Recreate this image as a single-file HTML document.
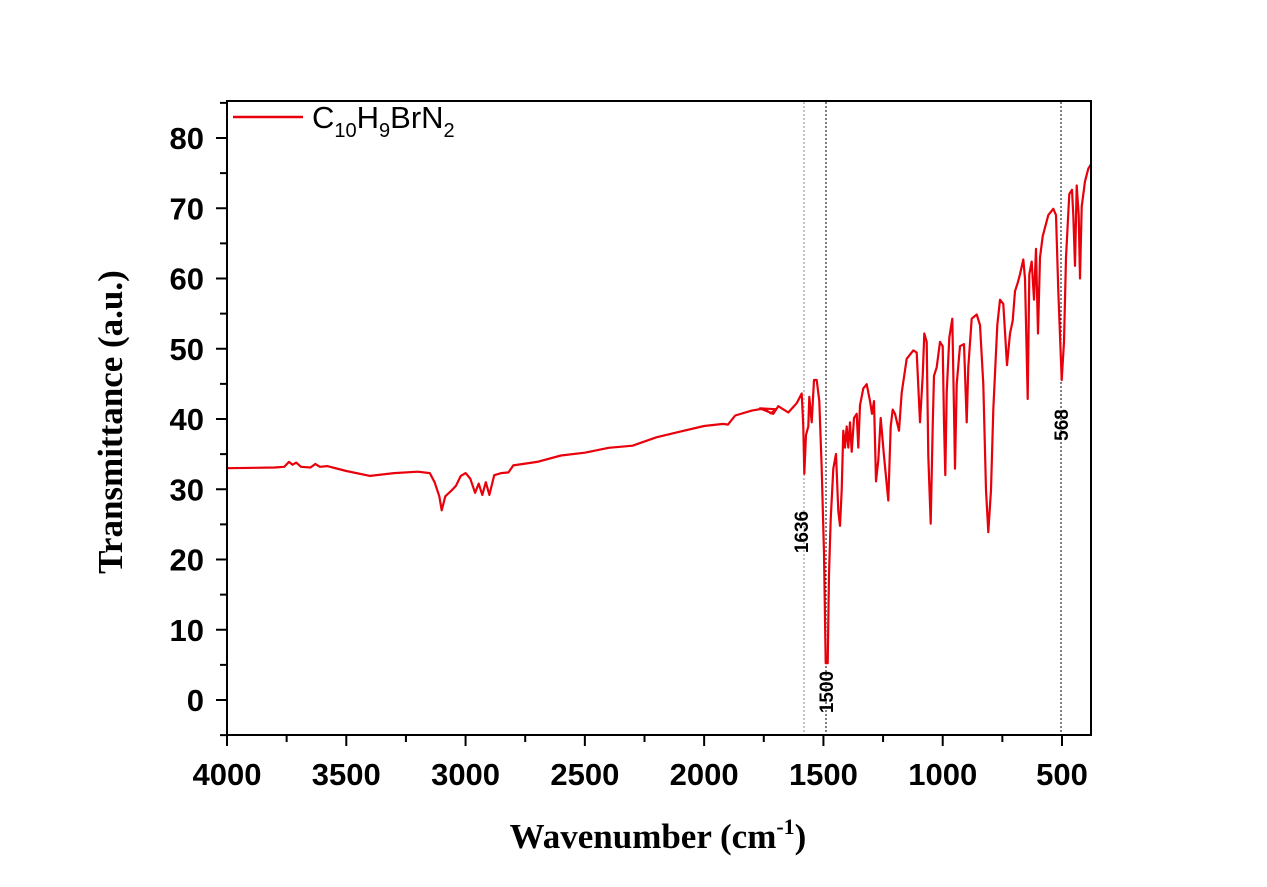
<!DOCTYPE html><html><head><style>body{margin:0;background:#fff}</style></head><body>
<svg id="s" width="1267" height="882" xmlns="http://www.w3.org/2000/svg" font-family="Liberation Sans, sans-serif">
<rect width="1267" height="882" fill="#fff"/>
<g stroke="#000" stroke-width="1" stroke-dasharray="2,2">
<line x1="804" y1="102" x2="804" y2="734" stroke="#888"/>
<line x1="826" y1="102" x2="826" y2="734"/>
<line x1="1061" y1="102" x2="1061" y2="734"/>
</g>
<polyline id="p" fill="none" stroke="#e8000b" stroke-width="2.2" stroke-linejoin="round"/>
<rect x="227" y="101" width="864" height="634" fill="none" stroke="#000" stroke-width="2"/>
<g id="t" stroke="#000" stroke-width="2"></g>
<g font-size="31" font-weight="bold" text-anchor="end" id="yl"></g>
<g font-size="31" font-weight="bold" text-anchor="middle" id="xl"></g>
<line x1="233" y1="117" x2="303" y2="117" stroke="#e8000b" stroke-width="2.5"/>
<text x="312" y="128" font-size="31">C<tspan font-size="20" dy="9">10</tspan><tspan dy="-9">H</tspan><tspan font-size="20" dy="9">9</tspan><tspan dy="-9">BrN</tspan><tspan font-size="20" dy="9">2</tspan></text>
<g font-size="19" font-weight="bold">
<text transform="translate(808,532) rotate(-90)" text-anchor="middle">1636</text>
<text transform="translate(833,692) rotate(-90)" text-anchor="middle">1500</text>
<text transform="translate(1068,425) rotate(-90)" text-anchor="middle">568</text>
</g>
<text transform="translate(122,422) rotate(-90)" text-anchor="middle" font-family="Liberation Serif, serif" font-weight="bold" font-size="35">Transmittance (a.u.)</text>
<text x="658" y="848" text-anchor="middle" font-family="Liberation Serif, serif" font-weight="bold" font-size="35">Wavenumber (cm<tspan font-size="22" dy="-14">-1</tspan><tspan dy="14">)</tspan></text>
</svg>
<script>
var X=w=>227+(4000-w)*0.23857,Y=v=>700-v*7.025;
var t=document.getElementById('t'),yl=document.getElementById('yl'),xl=document.getElementById('xl'),h='',a='',b='';
for(var v=-5;v<=85;v+=5){var y=Y(v);h+='<line x1="'+(v%10?220:216)+'" y1="'+y+'" x2="227" y2="'+y+'"/>';if(v%10==0&&v>=0)a+='<text x="204" y="'+(y+11)+'">'+v+'</text>';}
for(var w=4000;w>=400;w-=250){var x=X(w);h+='<line x1="'+x+'" y1="735" x2="'+x+'" y2="'+(w%500?742:746)+'"/>';if(w%500==0)b+='<text x="'+x+'" y="785">'+w+'</text>';}
t.innerHTML=h;yl.innerHTML=a;xl.innerHTML=b;
var L=[[4000,33],[3800,33.1],[3760,33.2],[3740,33.9],[3725,33.5],[3710,33.8],[3690,33.2],[3650,33.1],[3630,33.6],[3610,33.2],[3580,33.3],[3500,32.6],[3400,31.9],[3300,32.3],[3200,32.5],[3150,32.3],[3130,31],[3110,29],[3100,27],[3085,29],[3060,29.8],[3040,30.5],[3020,31.9],[3000,32.3],[2980,31.5],[2960,29.5],[2945,30.8],[2930,29.2],[2915,31],[2900,29.2],[2880,32],[2850,32.3],[2820,32.4],[2800,33.4],[2700,33.9],[2600,34.8],[2500,35.2],[2400,35.9],[2300,36.2],[2200,37.4],[2100,38.2],[2000,39],[1920,39.3],[1900,39.2],[1870,40.5],[1800,41.2],[1750,41.5],[1720,40.8],[1700,41.4]];
var pts=L.map(p=>[X(p[0]),Y(p[1])]);
var R=[[0,757],[40,770],[55,752],[85,767],[110,745],[125,722],[130,800],[133,912],[138,820],[145,800],[148,730],[155,790],[162,690],[170,690],[178,740],[185,900],[192,1100],[197,1360],[203,1360],[207,1150],[212,1020],[220,900],[228,865],[235,1000],[240,1035],[245,950],[250,810],[255,850],[260,800],[265,850],[270,790],[275,860],[282,780],[290,770],[295,850],[300,750],[310,710],[320,700],[330,740],[336,770],[342,740],[348,930],[355,880],[362,780],[372,870],[385,975],[392,800],[398,760],[405,770],[417,810],[425,720],[440,640],[460,620],[470,625],[480,790],[488,680],[493,580],[500,600],[505,870],[512,1030],[518,800],[522,680],[530,660],[540,600],[548,610],[552,790],[556,915],[560,720],[568,590],[577,545],[583,800],[585,900],[590,700],[600,610],[612,605],[620,790],[625,660],[635,545],[650,535],[660,560],[670,700],[678,950],[685,1050],[693,950],[700,760],[712,560],[720,500],[730,510],[741,655],[750,580],[758,550],[765,480],[773,460],[780,440],[790,405],[795,450],[803,735],[808,440],[815,410],[822,500],[828,380],[834,580],[840,400],[848,350],[865,300],[880,285],[888,300],[895,480],[905,690],[912,600],[918,400],[928,250],[936,240],[940,300],[945,420],[950,230],[956,300],[960,450],[965,280],[975,220],[985,190],[993,180]];
R.forEach(p=>pts.push([760+p[0]/3,101+(p[1]-30)*0.4227]));
document.getElementById('p').setAttribute('points',pts.map(p=>p[0].toFixed(1)+','+p[1].toFixed(1)).join(' '));
</script>
</body></html>
